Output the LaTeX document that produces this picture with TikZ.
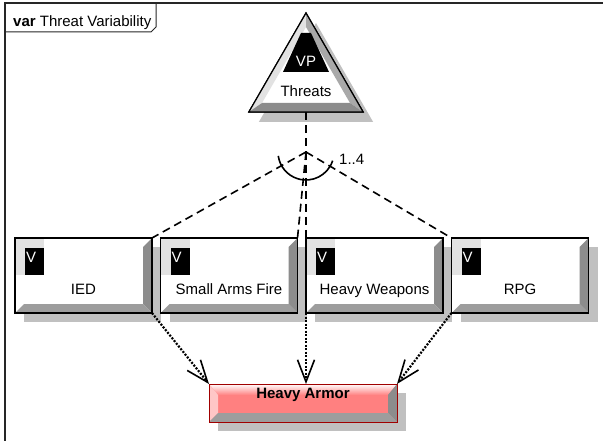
\documentclass[tikz,border=0pt]{standalone}
\usepackage{fontspec}
\setmainfont{Liberation Sans}
\usetikzlibrary{shapes.geometric}
\usetikzlibrary{shadows}
\usetikzlibrary{arrows.meta}

\definecolor{armorred}{HTML}{FF8080}
\definecolor{armoredge}{HTML}{A00000}
\definecolor{shadowgray}{HTML}{C0C0C0}
\definecolor{bevelgray}{HTML}{8C8C8C}
\definecolor{bevellight}{HTML}{E2E2E2}

\begin{document}
\begin{tikzpicture}[x=1pt, y=-1pt,
    font=\fontsize{15}{18}\selectfont,
    shadowed/.style={drop shadow={shadow xshift=9pt, shadow yshift=-9pt, fill=shadowgray, opacity=1}},
    varbox/.style={draw, line width=1.2pt, fill=white, minimum width=137pt, minimum height=75pt,
      inner sep=0pt, outer sep=0pt, shadowed},
    vpoint/.style={draw, line width=1.2pt, fill=white, regular polygon, regular polygon sides=3,
      minimum size=132pt, inner sep=0pt, outer sep=0pt,
      drop shadow={shadow xshift=10pt, shadow yshift=-10pt, fill=shadowgray, opacity=1}},
    armorbox/.style={draw=armoredge, line width=1pt, fill=armorred, minimum width=188pt,
      minimum height=38pt, inner sep=0pt, outer sep=0pt, shadowed},
    choice/.style={dash pattern=on 8pt off 5pt, line width=1.6pt},
    needs/.style={dash pattern=on 2pt off 1.5pt, line width=2.2pt,
      -{Straight Barb[length=22pt, width=17pt, line width=1.6pt]}},
    tag/.style={text=white, inner sep=0pt, anchor=north west}
  ]
  \clip (0,0) rectangle (603,441);
  % frame and name tab
  \draw[line width=1.5pt, black!85] (5,460) -- (5,3) -- (620,3);
  \draw[line width=1pt, black!85] (5,32) -- (151,32) -- (156,27) -- (156,3);
  \node[anchor=base west, inner sep=0pt] (title) at (13,26.5) {\textbf{var} Threat Variability};

  % variation point
  \node[vpoint] (vp) at (306,79) {};
  \fill[bevellight] (vp.corner 1) -- (vp.corner 2) -- (262,103) -- (306,27) -- cycle;
  \fill[bevelgray!75] (vp.corner 1) -- (vp.corner 3) -- (350,103) -- (306,27) -- cycle;
  \fill[bevelgray] (vp.corner 2) -- (vp.corner 3) -- (350,103) -- (262,103) -- cycle;
  \fill (301,33) -- (311,33) -- (329,72) -- (283,72) -- cycle;
  \draw[line width=1.2pt] (vp.corner 1) -- (vp.corner 2) -- (vp.corner 3) -- cycle;
  \node[text=white] (vptag) at (306,61) {VP};
  \node[anchor=base] (vpname) at (306,97) {Threats};

  % variants
  \foreach \n/\x/\t in {ied/83.5/IED, saf/229/Small Arms Fire, hwp/374.5/Heavy Weapons, rpg/520/RPG}{
    \node[varbox] (\n) at (\x,275.5) {};
    \fill[bevelgray] (\n.north east) -- ++(-9,9) -- ([shift={(-9,-9)}]\n.south east) -- (\n.south east) -- cycle;
    \fill[bevelgray!85] (\n.south west) -- ([shift={(9,-9)}]\n.south west) -- ([shift={(-9,-9)}]\n.south east) -- (\n.south east) -- cycle;
    \fill[bevellight] (\n.north west) rectangle ++(29,37);
    \fill ([shift={(10,10)}]\n.north west) rectangle ++(19,27);
    \draw[line width=1.2pt] (\n.north west) rectangle (\n.south east);
    \node[tag] (\n v) at ([shift={(11,14)}]\n.north west) {V};
    \node[anchor=base] (\n t) at ([yshift=-18.5pt]\n.center) {\t};
  }

  % required variant
  \node[armorbox] (armor) at (303,403) {};
  \shade[top color=white, bottom color=armorred] (armor.north west) -- (armor.north east) -- ++(-9,11)
    -- ([shift={(9,11)}]armor.north west) -- cycle;
  \fill[armorred!45] (armor.north west) -- ([shift={(9,11)}]armor.north west)
    -- ([shift={(9,-9)}]armor.south west) -- (armor.south west) -- cycle;
  \fill[bevelgray] (armor.north east) -- ++(-9,11) -- ([shift={(-9,-9)}]armor.south east) -- (armor.south east) -- cycle;
  \fill[bevelgray!85] (armor.south west) -- ([shift={(9,-9)}]armor.south west)
    -- ([shift={(-9,-9)}]armor.south east) -- (armor.south east) -- cycle;
  \draw[armoredge, line width=1pt] (armor.north west) rectangle (armor.south east);
  \node[anchor=base] (armor t) at ([yshift=4.5pt]armor.center) {\textbf{Heavy Armor}};

  % alternative choice
  \coordinate (jn) at (306,152);
  \draw[choice] (vp.south) -- (jn);
  \draw[choice] (jn) -- (ied.north east);
  \draw[choice] (jn) -- (saf.north east);
  \draw[choice] (jn) -- (hwp.north west);
  \draw[choice] (jn) -- (rpg.north west);
  \draw[line width=1.6pt] ([shift={(-18:28pt)}]jn) arc[start angle=-18, end angle=-172, radius=28pt];
  \node[anchor=base west, inner sep=0pt] (mult) at (339,164.5) {1..4};

  % requires
  \draw[needs] (ied.south east) -- (armor.north west);
  \draw[needs] (hwp.south west) -- (hwp.south west |- armor.north);
  \draw[needs] (rpg.south west) -- (armor.north east);
\end{tikzpicture}
\end{document}
